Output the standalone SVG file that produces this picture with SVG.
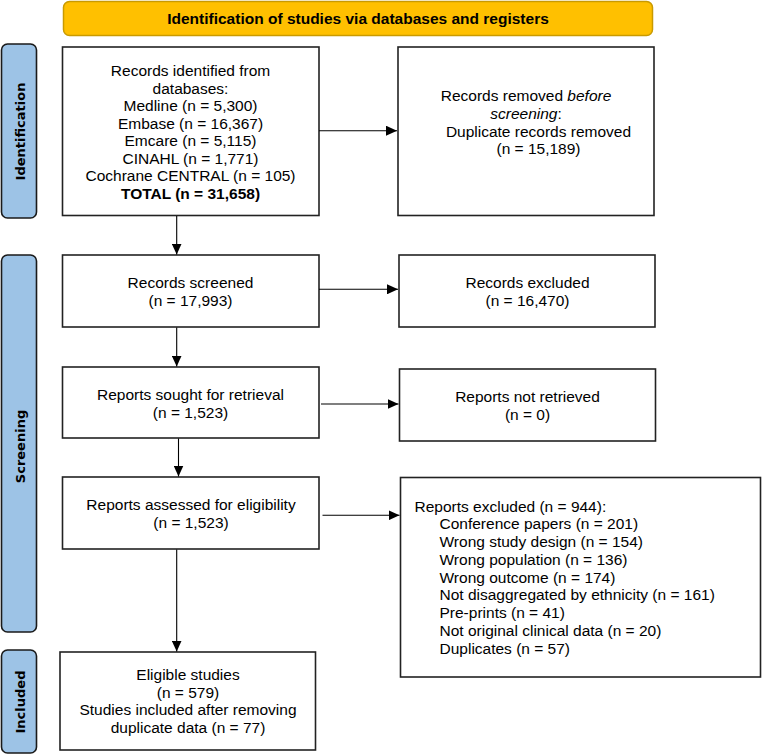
<svg xmlns="http://www.w3.org/2000/svg" width="763" height="754" viewBox="0 0 763 754">
<defs>
<marker id="ah" markerUnits="userSpaceOnUse" markerWidth="11" markerHeight="10" refX="11" refY="5" orient="auto">
<path d="M0,0 L11,5 L0,10 Z" fill="#000"/>
</marker>
<style>
.box{fill:#fff;stroke:#222;stroke-width:1.6}
.side{fill:#9DC3E6;stroke:#1a1a1a;stroke-width:1.6}
.banner{fill:#FFC000;stroke:#C99A00;stroke-width:1.5}
.t{font-family:"Liberation Sans",Arial,sans-serif;font-size:15.5px;fill:#000}
.c{text-anchor:middle}
.b{font-weight:bold}
.st{font-family:"DejaVu Sans",Verdana,sans-serif;font-size:13px;font-weight:bold;fill:#000;text-anchor:middle}
.conn{stroke:#000;stroke-width:1.1;fill:none;marker-end:url(#ah)}
</style>
</defs>
<rect width="763" height="754" fill="#fff"/>

<g id="banner">
<rect class="banner" x="63.5" y="1.5" width="589" height="34" rx="6"/>
<text class="t b c" x="358" y="24">Identification of studies via databases and registers</text>
</g>

<g id="side-identification">
<rect class="side" x="1.5" y="44" width="35" height="174" rx="6"/>
<text class="st" transform="translate(24.5,131.5) rotate(-90)">Identification</text>
</g>
<g id="side-screening">
<rect class="side" x="1.5" y="255" width="35" height="377" rx="6"/>
<text class="st" transform="translate(24.5,446.5) rotate(-90)">Screening</text>
</g>
<g id="side-included">
<rect class="side" x="1.5" y="650" width="35" height="103" rx="6"/>
<text class="st" transform="translate(24.5,702) rotate(-90)">Included</text>
</g>

<g id="identified">
<rect class="box" x="62.5" y="47" width="256.5" height="168.5"/>
<text class="t c" x="190.5" y="76">Records identified from</text>
<text class="t c" x="190.5" y="93.5">databases:</text>
<text class="t c" x="190.5" y="111">Medline (n = 5,300)</text>
<text class="t c" x="190.5" y="128.5">Embase (n = 16,367)</text>
<text class="t c" x="190.5" y="146">Emcare (n = 5,115)</text>
<text class="t c" x="190.5" y="163.5">CINAHL (n = 1,771)</text>
<text class="t c" x="190.5" y="181">Cochrane CENTRAL (n = 105)</text>
<text class="t c b" x="190.5" y="198.5">TOTAL (n = 31,658)</text>
</g>

<g id="removed">
<rect class="box" x="398" y="47" width="256" height="168.5"/>
<text class="t c" x="526" y="101">Records removed <tspan font-style="italic">before</tspan></text>
<text class="t c" x="526" y="118.5"><tspan font-style="italic">screening</tspan>:</text>
<text class="t c" x="538.5" y="136.5">Duplicate records removed</text>
<text class="t c" x="538.5" y="154">(n = 15,189)</text>
</g>

<g id="screened">
<rect class="box" x="62.5" y="255" width="256.5" height="72"/>
<text class="t c" x="190.5" y="287.5">Records screened</text>
<text class="t c" x="190.5" y="305.5">(n = 17,993)</text>
</g>

<g id="excluded">
<rect class="box" x="399" y="255" width="256" height="72"/>
<text class="t c" x="527.5" y="287.5">Records excluded</text>
<text class="t c" x="527.5" y="305.5">(n = 16,470)</text>
</g>

<g id="sought">
<rect class="box" x="62.5" y="367" width="256.5" height="71"/>
<text class="t c" x="190.5" y="399.5">Reports sought for retrieval</text>
<text class="t c" x="190.5" y="417.5">(n = 1,523)</text>
</g>

<g id="notretrieved">
<rect class="box" x="399.5" y="369" width="256" height="72"/>
<text class="t c" x="527.5" y="401.5">Reports not retrieved</text>
<text class="t c" x="527.5" y="419.5">(n = 0)</text>
</g>

<g id="assessed">
<rect class="box" x="62.5" y="477" width="256.5" height="72"/>
<text class="t c" x="191" y="510">Reports assessed for eligibility</text>
<text class="t c" x="191" y="527.5">(n = 1,523)</text>
</g>

<g id="reportsexcluded">
<rect class="box" x="400.5" y="477.5" width="360" height="199.5"/>
<text class="t" x="414.5" y="511.5">Reports excluded (n = 944):</text>
<text class="t" x="439.5" y="529">Conference papers (n = 201)</text>
<text class="t" x="439.5" y="547">Wrong study design (n = 154)</text>
<text class="t" x="439.5" y="564.5">Wrong population (n = 136)</text>
<text class="t" x="439.5" y="582.5">Wrong outcome (n = 174)</text>
<text class="t" x="439.5" y="600">Not disaggregated by ethnicity (n = 161)</text>
<text class="t" x="439.5" y="618">Pre-prints (n = 41)</text>
<text class="t" x="439.5" y="635.5">Not original clinical data (n = 20)</text>
<text class="t" x="439.5" y="653.5">Duplicates (n = 57)</text>
</g>

<g id="included">
<rect class="box" x="60" y="652" width="255.5" height="98"/>
<text class="t c" x="188" y="680">Eligible studies</text>
<text class="t c" x="188" y="697.5">(n = 579)</text>
<text class="t c" x="188" y="715">Studies included after removing</text>
<text class="t c" x="188" y="733">duplicate data (n = 77)</text>
</g>

<g id="connectors">
<line class="conn" x1="176.7" y1="216" x2="176.7" y2="254.5"/>
<line class="conn" x1="176.7" y1="327.5" x2="176.7" y2="366.5"/>
<line class="conn" x1="178.5" y1="438.5" x2="178.5" y2="476.5"/>
<line class="conn" x1="176.7" y1="549.5" x2="176.7" y2="651.5"/>
<line class="conn" x1="319" y1="130.7" x2="397" y2="130.7"/>
<line class="conn" x1="319" y1="289.3" x2="398" y2="289.3"/>
<line class="conn" x1="321" y1="404" x2="398.5" y2="404"/>
<line class="conn" x1="322.5" y1="515.3" x2="399.5" y2="515.3"/>
</g>
</svg>
